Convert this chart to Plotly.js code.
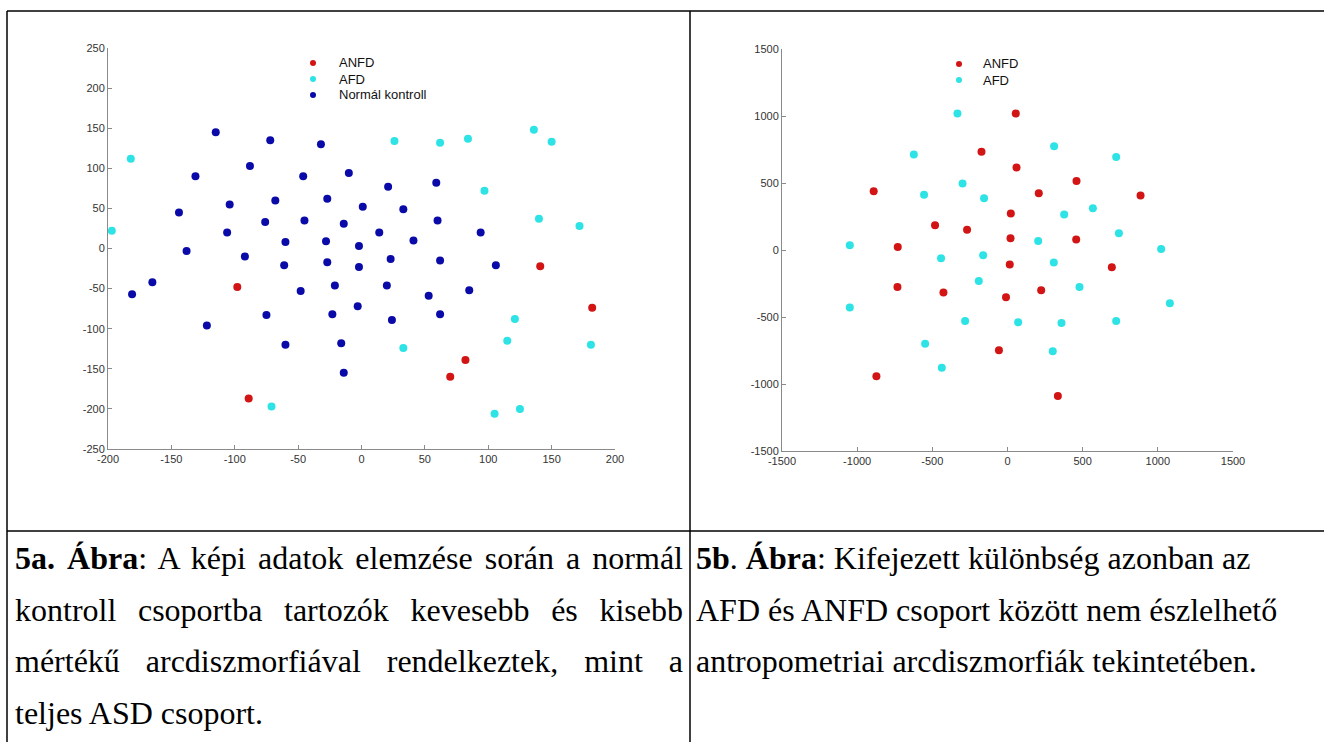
<!DOCTYPE html>
<html>
<head>
<meta charset="utf-8">
<script src="https://cdn.plot.ly/plotly-3.0.1.min.js"></script>
<style>
  html, body { margin: 0; padding: 0; background: #fff; }
  #wrap { position: relative; width: 1324px; height: 742px; overflow: hidden; }
  #chart { position: absolute; left: 0; top: 0; width: 1324px; height: 742px; }
  .cap { position: absolute; font-family: "Liberation Serif", "Times New Roman", serif; font-size: 32px; line-height: 51.5px; color: #000; }
  .cap div { white-space: nowrap; }
  .cap .j { text-align: justify; text-align-last: justify; white-space: normal; }
</style>
</head>
<body>
<div id="wrap">
  <div id="chart"></div>
  <div class="cap" id="capA" style="left:15px; top:533px; width:668px;">
    <div class="j"><b>5a. Ábra</b>: A képi adatok elemzése során a normál</div>
    <div class="j">kontroll csoportba tartozók kevesebb és kisebb</div>
    <div class="j">mértékű arcdiszmorfiával rendelkeztek, mint a</div>
    <div>teljes ASD csoport.</div>
  </div>
  <div class="cap" id="capB" style="left:696px; top:533px; width:625px;">
    <div><b>5b</b>. <b>Ábra</b>: Kifejezett különbség azonban az</div>
    <div>AFD és ANFD csoport között nem észlelhető</div>
    <div>antropometriai arcdiszmorfiák tekintetében.</div>
  </div>
</div>
<script>
// ---- Data: Figure 5a ----
var leftNormalX = [-115,-72,-32,-88,-131,-46,-10,-144,-104,-68,-27,1,-76,-45,-14,14,-106,-60,-28,-2,-138,-92,-61,-27,-2,21,59,33,60,94,41,23,62,106,-181,-165,-48,-21,-3,-75,-23,-122,-60,-16,-14,20,53,85,62,24];
var leftNormalY = [145,135,130,103,90,90,94,45,55,60,62,52,33,35,31,20,20,8,9,3,-3,-10,-21,-17,-23,77,82,49,35,20,10,-13,-15,-21,-57,-42,-53,-46,-72,-83,-82,-96,-120,-118,-155,-46,-59,-52,-82,-89];
var leftAnfdX = [141,-98,-89,182,82,70];
var leftAnfdY = [-22,-48,-187,-74,-139,-160];
var leftAfdX = [-182,-197,26,62,84,136,150,97,140,172,-71,121,115,181,33,105,125];
var leftAfdY = [112,22,134,132,137,148,133,72,37,28,-197,-88,-115,-120,-124,-206,-200];

// ---- Data: Figure 5b ----
var rightAnfdX = [55,-173,60,459,208,-890,885,-482,-269,22,-730,20,457,15,694,-732,-426,224,-10,-57,-872,335];
var rightAnfdY = [1018,734,615,515,423,438,406,184,152,272,22,87,78,-108,-129,-276,-318,-301,-353,-748,-943,-1090];
var rightAfdX = [-333,310,-623,723,-299,-555,-156,568,377,-1049,204,741,1022,-442,-162,308,-191,479,1080,-1049,-282,71,359,723,-548,301,-437];
var rightAfdY = [1018,774,712,694,496,413,386,311,264,35,67,125,8,-62,-40,-94,-231,-276,-398,-430,-530,-540,-545,-530,-699,-756,-878];

// ---- Tick values / legend labels ----
var leftXTicks = [-200,-150,-100,-50,0,50,100,150,200];
var leftYTicks = [-250,-200,-150,-100,-50,0,50,100,150,200,250];
var rightTicks = [-1500,-1000,-500,0,500,1000,1500];
var leftLegendNames = ['ANFD', 'AFD', 'Normál kontroll'];
var rightLegendNames = ['ANFD', 'AFD'];
function lab(a){ return a.map(function(v){ return String(v); }); }

var RED = '#d21414', CYAN = '#2ee3e6', BLUE = '#0a0aa8';
var leftColors = [RED, CYAN, BLUE];
var rightColors = [RED, CYAN];
var MS = 8;

var traces = [
  {x: leftAnfdX, y: leftAnfdY, type:'scatter', mode:'markers', name:leftLegendNames[0], marker:{color:RED, size:MS}, xaxis:'x', yaxis:'y'},
  {x: leftAfdX, y: leftAfdY, type:'scatter', mode:'markers', name:leftLegendNames[1], marker:{color:CYAN, size:MS}, xaxis:'x', yaxis:'y'},
  {x: leftNormalX, y: leftNormalY, type:'scatter', mode:'markers', name:leftLegendNames[2], marker:{color:BLUE, size:MS}, xaxis:'x', yaxis:'y'},
  {x: rightAnfdX, y: rightAnfdY, type:'scatter', mode:'markers', name:rightLegendNames[0], marker:{color:RED, size:MS}, xaxis:'x2', yaxis:'y2'},
  {x: rightAfdX, y: rightAfdY, type:'scatter', mode:'markers', name:rightLegendNames[1], marker:{color:CYAN, size:MS}, xaxis:'x2', yaxis:'y2'}
];

var W = 1324, H = 742;
function px(x){ return x / W; }
function py(y){ return 1 - y / H; }

var tickFont = {family:'Liberation Sans, Arial, sans-serif', size:11, color:'#333'};
function axis(domain, range, tv, anchor){
  return {domain: domain, range: range, anchor: anchor, showline:true, linecolor:'#8a8a8a', linewidth:1,
    ticks:'inside', ticklen:4, tickcolor:'#8a8a8a', tickwidth:1, showgrid:false, zeroline:false,
    tickmode:'array', tickvals: tv, ticktext: lab(tv), tickfont: tickFont, fixedrange:true};
}

var shapes = [
  {type:'line', xref:'paper', yref:'paper', x0:px(7), x1:px(1324), y0:py(11), y1:py(11), line:{color:'#000', width:1.5}},
  {type:'line', xref:'paper', yref:'paper', x0:px(7), x1:px(7), y0:py(11), y1:py(742), line:{color:'#000', width:1.5}},
  {type:'line', xref:'paper', yref:'paper', x0:px(690), x1:px(690), y0:py(11), y1:py(742), line:{color:'#000', width:1.5}},
  {type:'line', xref:'paper', yref:'paper', x0:px(7), x1:px(1324), y0:py(531), y1:py(531), line:{color:'#000', width:1.5}}
];
var annotations = [];
var legFont = {family:'Liberation Sans, Arial, sans-serif', size:13, color:'#111'};
function addLegend(names, colors, mx, tx, y0, step){
  names.forEach(function(n, i){
    var cy = y0 + i * step;
    shapes.push({type:'circle', xref:'paper', yref:'paper', x0:px(mx-3), x1:px(mx+3), y0:py(cy+3), y1:py(cy-3),
      fillcolor: colors[i], line:{width:0}});
    annotations.push({xref:'paper', yref:'paper', x:px(tx), y:py(cy), xanchor:'left', yanchor:'middle',
      text:n, showarrow:false, font:legFont});
  });
}
addLegend(leftLegendNames, leftColors, 313, 337, 63, 16);
addLegend(rightLegendNames, rightColors, 959, 981, 64, 16);

var layout = {
  width: W, height: H,
  margin: {l:0, r:0, t:0, b:0},
  paper_bgcolor:'#fff', plot_bgcolor:'#fff',
  xaxis: axis([px(108), px(615)], [-200, 200], leftXTicks, 'y'),
  yaxis: axis([py(449), py(48)], [-250, 250], leftYTicks, 'x'),
  xaxis2: axis([px(782), px(1233)], [-1500, 1500], rightTicks, 'y2'),
  yaxis2: axis([py(451), py(49)], [-1500, 1500], rightTicks, 'x2'),
  showlegend: false,
  shapes: shapes,
  annotations: annotations
};

Plotly.newPlot('chart', traces, layout, {displayModeBar:false, staticPlot:true});
</script>
</body>
</html>
